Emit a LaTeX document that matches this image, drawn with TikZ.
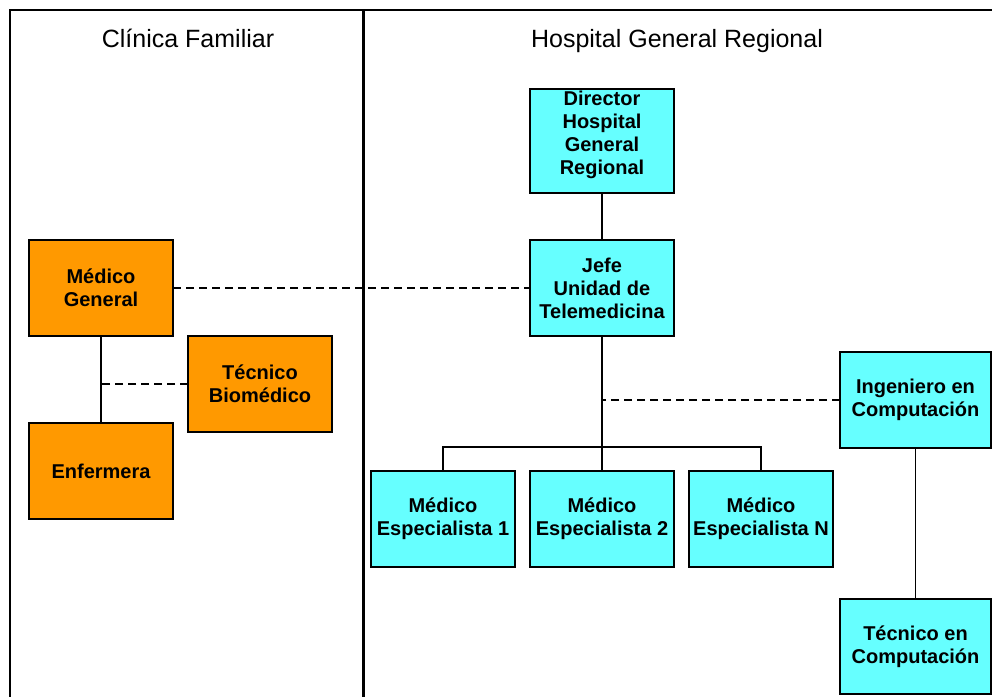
\documentclass[tikz,border=0pt]{standalone}
\usepackage{fontspec}
\setmainfont{Liberation Sans}
\usepackage{tikz}
\usetikzlibrary{positioning}
\definecolor{clinicorange}{HTML}{FF9900}
\definecolor{hospitalcyan}{HTML}{66FFFF}

\begin{document}
\begin{tikzpicture}[
  x=1pt, y=-1pt,
  every node/.style={align=center},
  staff/.style={draw, line width=1.3pt, inner sep=2pt, outer sep=0pt, minimum width=144pt, minimum height=96pt, font=\bfseries\fontsize{20}{23}\selectfont},
  clinic/.style={staff, fill=clinicorange},
  hospital/.style={staff, fill=hospitalcyan},
  zone/.style={font=\fontsize{25}{30}\selectfont, anchor=base},
  link/.style={line width=1.3pt},
  liaison/.style={line width=1.7pt, dash pattern=on 8pt off 5pt}
]

% Frame
\clip (0,0) rectangle (992,696);
\draw[line width=1.8pt] (10,10) rectangle (1020,720);
\draw[line width=3pt] (363,10) -- (363,720);
\node[zone] (clinica) at (188,47) {Clínica Familiar};
\node[zone] (hgr) at (677,47) {Hospital General Regional};

% Hospital General Regional
\node[hospital, minimum height=104pt, text depth=16pt] (director) at (602,141) {Director\\Hospital\\General\\Regional};
\node[hospital, below=47pt of director] (jefe) {Jefe\\Unidad de\\Telemedicina};
\node[hospital, below=135pt of jefe] (esp2) {Médico\\Especialista 2};
\node[hospital, left=15pt of esp2] (esp1) {Médico\\Especialista 1};
\node[hospital, right=15pt of esp2] (espN) {Médico\\Especialista N};
\node[hospital, below right=16pt and 166pt of jefe, minimum width=151pt] (ingcomp) {Ingeniero en\\Computación};
\node[hospital, below=151pt of ingcomp, minimum width=151pt, minimum height=95pt] (teccomp) {Técnico en\\Computación};

% Clinica Familiar
\node[clinic, left=357pt of jefe] (medgen) {Médico\\General};
\node[clinic, below=87pt of medgen] (enfermera) {Enfermera};
\node[clinic, below right=0pt and 15pt of medgen] (tecbio) {Técnico\\Biomédico};

% Connections
\coordinate (bus) at (602,447);
\draw[link] (director) -- (jefe);
\draw[link] (jefe) -- (esp2);
\draw[link] (esp1.north) |- (bus) -| (espN.north);
\draw[link] (ingcomp) -- (teccomp);
\draw[link] (medgen) -- (enfermera);

\draw[liaison] (medgen.east) -- (jefe.west);
\draw[liaison] (ingcomp.west) -- (ingcomp.west -| jefe.south);
\draw[liaison] (tecbio.west) -- (tecbio.west -| medgen.south);

\end{tikzpicture}
\end{document}
